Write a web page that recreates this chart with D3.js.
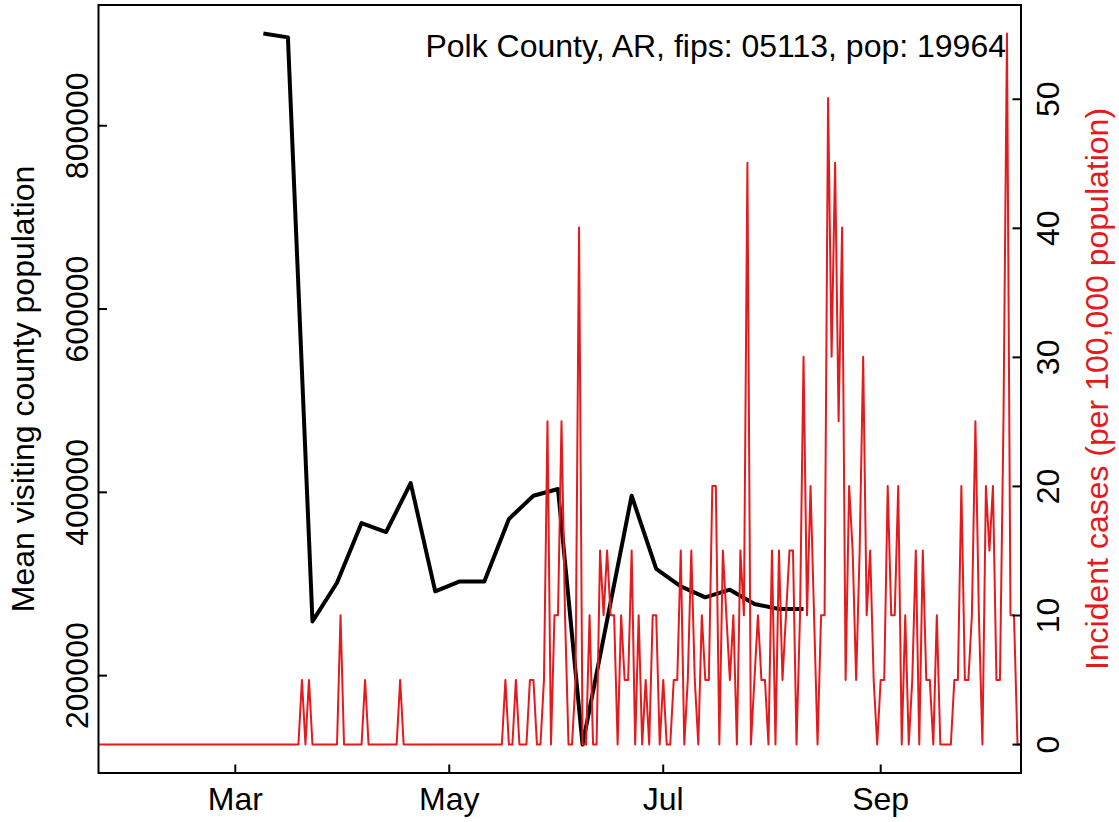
<!DOCTYPE html>
<html>
<head>
<meta charset="utf-8">
<script src="https://cdn.jsdelivr.net/npm/d3@7"></script>
<style>
  body { margin: 0; background: #fff; }
  text { font-family: "Liberation Sans", Arial, sans-serif; }
</style>
</head>
<body>
<div id="chart"></div>
<script>
// county info shown in the title
const countyName = "Polk County, AR";
const fips = "05113";
const population = 19964;

// weekly mean visiting county population (black line)
const visitDates = [
  "2020-03-09", "2020-03-16", "2020-03-23", "2020-03-30", "2020-04-06", "2020-04-13",
  "2020-04-20", "2020-04-27", "2020-05-04", "2020-05-11", "2020-05-18", "2020-05-25",
  "2020-06-01", "2020-06-08", "2020-06-22", "2020-06-29", "2020-07-06", "2020-07-13",
  "2020-07-20", "2020-07-27", "2020-08-03", "2020-08-10"
];
const visitValues = [
  900700, 896400, 259200, 301400, 366500, 356700,
  410100, 291900, 302800, 302800, 370900, 396300,
  403600, 124800, 396300, 316400, 297400, 285400,
  293800, 278200, 272700, 272700
];

// daily incident cases, starting 2020-01-22 (red line)
const caseStart = "2020-01-22";
const dailyCases = [
  0,0,0,0,0,0,0,0,0,0, 0,0,0,0,0,0,0,0,0,0,
  0,0,0,0,0,0,0,0,0,0, 0,0,0,0,0,0,0,0,0,0,
  0,0,0,0,0,0,0,0,0,0, 0,0,0,0,0,0,0,0,1,0,
  1,0,0,0,0,0,0,0,0,2, 0,0,0,0,0,0,1,0,0,0,
  0,0,0,0,0,0,1,0,0,0, 0,0,0,0,0,0,0,0,0,0,
  0,0,0,0,0,0,0,0,0,0, 0,0,0,0,0,0,1,0,0,1,
  0,0,0,1,1,0,0,1,5,0, 2,2,5,2,0,0,1,8,0,0,
  2,0,0,3,2,3,2,2,0,2, 1,1,3,0,2,0,1,0,2,2,
  0,1,0,0,1,1,3,0,1,3, 1,0,2,1,1,4,4,0,3,2,
  1,2,0,3,2,9,0,1,2,1, 1,0,3,0,3,1,2,3,3,0,
  2,6,2,4,2,0,2,2,10,6, 9,5,8,1,4,3,1,3,6,2,
  3,1,0,1,1,4,2,2,4,0, 2,0,1,3,0,3,1,1,0,2,
  0,0,0,0,1,1,4,1,1,2, 5,2,0,4,3,4,1,1,5,11,
  2,2,0,0
];

const monthTicks = ["2020-03-01", "2020-05-01", "2020-07-01", "2020-09-01"];
const leftTicks = [200000, 400000, 600000, 800000];
const rightTicks = [0, 10, 20, 30, 40, 50];

const config = {
  width: 1119,
  height: 822,
  margin: { top: 5, right: 98, bottom: 49, left: 98.5 },
  fontSize: 32,
  red: "#E41A1C",
};

const parse = d3.timeParse("%Y-%m-%d");
const start = parse(caseStart);
const visits = visitDates.map((d, i) => ({ date: parse(d), value: visitValues[i] }));
const cases = dailyCases.map((c, i) => ({
  date: d3.timeDay.offset(start, i),
  value: (c / population) * 100000,
}));

const w = config.width - config.margin.left - config.margin.right;
const h = config.height - config.margin.top - config.margin.bottom;

// R style 4% padding on y ranges
function padded(ext) {
  const p = (ext[1] - ext[0]) * 0.04;
  return [ext[0] - p, ext[1] + p];
}

const x = d3.scaleTime()
  .domain(d3.extent(cases, (d) => d.date))
  .range([0, w]);
const yLeft = d3.scaleLinear()
  .domain(padded(d3.extent(visitValues)))
  .range([h, 0]);
const yRight = d3.scaleLinear()
  .domain(padded(d3.extent(cases, (d) => d.value)))
  .range([h, 0]);

const svg = d3.select("#chart")
  .append("svg")
  .attr("width", config.width)
  .attr("height", config.height);

const g = svg.append("g")
  .attr("transform", `translate(${config.margin.left},${config.margin.top})`);

// black line
g.append("path")
  .datum(visits)
  .attr("fill", "none")
  .attr("stroke", "#000")
  .attr("stroke-width", 4)
  .attr("stroke-linejoin", "round")
  .attr("d", d3.line().x((d) => x(d.date)).y((d) => yLeft(d.value)));

// red line
g.append("path")
  .datum(cases)
  .attr("fill", "none")
  .attr("stroke", config.red)
  .attr("stroke-width", 2)
  .attr("stroke-linejoin", "round")
  .attr("d", d3.line().x((d) => x(d.date)).y((d) => yRight(d.value)));

// box
g.append("rect")
  .attr("width", w)
  .attr("height", h)
  .attr("fill", "none")
  .attr("stroke", "#000")
  .attr("stroke-width", 2);

const tickLen = 8.5;

// bottom axis (inward ticks)
const xAxis = g.append("g").attr("transform", `translate(0,${h})`);
monthTicks.map(parse).forEach((d) => {
  xAxis.append("line")
    .attr("x1", x(d)).attr("x2", x(d))
    .attr("y1", 0).attr("y2", -tickLen)
    .attr("stroke", "#000").attr("stroke-width", 2);
  xAxis.append("text")
    .attr("x", x(d)).attr("y", 37)
    .attr("text-anchor", "middle")
    .attr("font-size", config.fontSize)
    .text(d3.timeFormat("%b")(d));
});

// left axis
const lAxis = g.append("g");
leftTicks.forEach((v) => {
  lAxis.append("line")
    .attr("x1", 0).attr("x2", tickLen)
    .attr("y1", yLeft(v)).attr("y2", yLeft(v))
    .attr("stroke", "#000").attr("stroke-width", 2);
  lAxis.append("text")
    .attr("transform", `translate(-10.5,${yLeft(v)}) rotate(-90)`)
    .attr("text-anchor", "middle")
    .attr("font-size", config.fontSize)
    .text(v);
});

// right axis
const rAxis = g.append("g").attr("transform", `translate(${w},0)`);
rightTicks.forEach((v) => {
  rAxis.append("line")
    .attr("x1", 0).attr("x2", -tickLen)
    .attr("y1", yRight(v)).attr("y2", yRight(v))
    .attr("stroke", "#000").attr("stroke-width", 2);
  rAxis.append("text")
    .attr("transform", `translate(37.5,${yRight(v)}) rotate(-90)`)
    .attr("text-anchor", "middle")
    .attr("font-size", config.fontSize)
    .text(v);
});

// axis titles
svg.append("text")
  .attr("transform", `translate(34,${config.margin.top + h / 2}) rotate(-90)`)
  .attr("text-anchor", "middle")
  .attr("font-size", config.fontSize)
  .text("Mean visiting county population");

svg.append("text")
  .attr("transform", `translate(1108,${config.margin.top + h / 2}) rotate(-90)`)
  .attr("text-anchor", "middle")
  .attr("font-size", config.fontSize)
  .attr("fill", config.red)
  .text("Incident cases (per 100,000 population)");

// title inside the plot
g.append("text")
  .attr("x", w - 15)
  .attr("y", 52)
  .attr("text-anchor", "end")
  .attr("font-size", config.fontSize)
  .text(`${countyName}, fips: ${fips}, pop: ${population}`);
</script>
</body>
</html>
